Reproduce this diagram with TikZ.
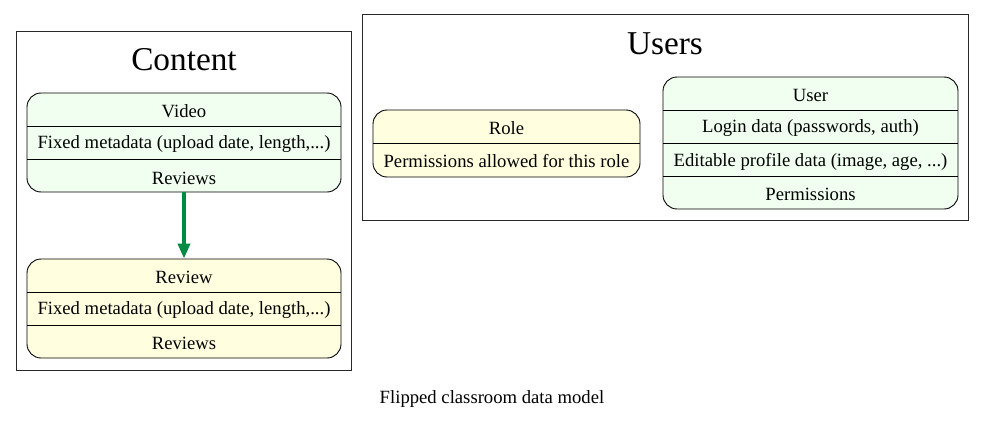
\documentclass[tikz,border=0pt]{standalone}
\usepackage{fontspec}
\setmainfont{Liberation Serif}
\usetikzlibrary{arrows.meta}
\definecolor{honeydew}{RGB}{240,255,240}
\definecolor{lyellow}{RGB}{255,255,224}
\definecolor{edgegreen}{RGB}{0,139,69}
\definecolor{clusterline}{RGB}{40,40,40}
\begin{document}
\begin{tikzpicture}[x=1pt,y=-1pt,
  rec/.style={draw=black, line width=0.9pt, rounded corners=14pt, inner sep=0pt},
  cluster/.style={draw=clusterline, line width=0.8pt, inner sep=0pt},
  lbl/.style={inner sep=0pt, yshift=-1.5pt, font=\fontsize{18.67}{22}\selectfont},
  ttl/.style={inner sep=0pt, font=\fontsize{33.3}{40}\selectfont},
  divider/.style={draw=black, line width=0.9pt},
  flow/.style={draw=edgegreen, line width=3.6pt, -{Triangle[length=15pt,width=12pt]}}
]
\useasboundingbox (0,0) rectangle (984,420);

% clusters
\node[cluster, minimum width=335pt, minimum height=339pt] (content) at (183.5,200.5) {};
\node[ttl] (contentT) at (184,60) {Content};
\node[cluster, minimum width=606pt, minimum height=206pt] (users) at (665,117) {};
\node[ttl] (usersT) at (665,44) {Users};

% Video
\node[rec, fill=honeydew, minimum width=314pt, minimum height=99pt] (video) at (184,142.5) {};
\draw[divider] (27,126) -- (341,126);
\draw[divider] (27,159.5) -- (341,159.5);
\node[lbl] (v1) at (184,110) {Video};
\node[lbl] (v2) at (184,143) {Fixed metadata (upload date, length,...)};
\node[lbl] (v3) at (184,176.5) {Reviews};

% Review
\node[rec, fill=lyellow, minimum width=314pt, minimum height=99pt] (review) at (184,308.5) {};
\draw[divider] (27,292) -- (341,292);
\draw[divider] (27,325) -- (341,325);
\node[lbl] (r1) at (184,276) {Review};
\node[lbl] (r2) at (184,309) {Fixed metadata (upload date, length,...)};
\node[lbl] (r3) at (184,342) {Reviews};

% Role
\node[rec, fill=lyellow, minimum width=267pt, minimum height=67pt] (role) at (506.5,143.5) {};
\draw[divider] (373,143.5) -- (640,143.5);
\node[lbl] (ro1) at (506.5,127) {Role};
\node[lbl] (ro2) at (506.5,160) {Permissions allowed for this role};

% User
\node[rec, fill=honeydew, minimum width=295pt, minimum height=132pt] (user) at (810.5,143) {};
\draw[divider] (663,110.5) -- (958,110.5);
\draw[divider] (663,143.5) -- (958,143.5);
\draw[divider] (663,176.5) -- (958,176.5);
\node[lbl] (u1) at (810.5,94) {User};
\node[lbl] (u2) at (810.5,127) {Login data (passwords, auth)};
\node[lbl] (u3) at (810.5,160) {Editable profile data (image, age, ...)};
\node[lbl] (u4) at (810.5,193) {Permissions};

% edge
\draw[flow] (video.south) -- (review.north);

% caption
\node[lbl] (caption) at (492,398) {Flipped classroom data model};
\end{tikzpicture}
\end{document}
